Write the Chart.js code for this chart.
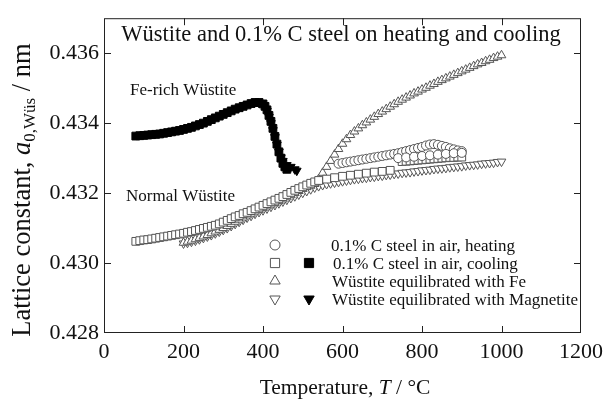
<!DOCTYPE html>
<html>
<head>
<meta charset="utf-8">
<script src="https://cdn.jsdelivr.net/npm/chart.js@4.4.1/dist/chart.umd.min.js"></script>
<style>
  html, body { margin: 0; padding: 0; background: #fff; }
  canvas { display: block; }
</style>
</head>
<body>
<canvas id="chart" width="609" height="399"></canvas>
<script>
// axis ticks
const xTicks = [0, 200, 400, 600, 800, 1000, 1200];
const yTicks = [0.428, 0.430, 0.432, 0.434, 0.436];
const xTickLabels = ['0', '200', '400', '600', '800', '1000', '1200'];
const yTickLabels = ['0.428', '0.430', '0.432', '0.434', '0.436'];

// 0.1% C steel in air, heating (open circles)
const heatT = [590, 600, 610, 620, 630, 640, 650, 660, 670, 680, 690, 700, 710, 720, 730, 740, 750, 760, 770, 780, 790, 800, 810, 820, 830, 840, 850, 860, 870, 880, 890, 900,
               740, 760, 780, 800, 820, 840, 860, 880, 900];
const heatA = [0.43284, 0.43286, 0.43288, 0.43290, 0.43292, 0.43294, 0.43296, 0.43298, 0.43300, 0.43302, 0.43304, 0.43306, 0.43308, 0.43310, 0.43312, 0.43314, 0.43317, 0.43320, 0.43323, 0.43326, 0.43329, 0.43332, 0.43336, 0.43339, 0.43340, 0.43338, 0.43335, 0.43332, 0.43328, 0.43325, 0.43322, 0.43320,
               0.43300, 0.43302, 0.43304, 0.43306, 0.43308, 0.43310, 0.43312, 0.43314, 0.43315];

// 0.1% C steel in air, cooling - normal wustite (open squares)
const coolT = [80, 90, 100, 110, 120, 130, 140, 150, 160, 170, 180, 190, 200, 210, 220, 230, 240, 250, 260, 270, 280, 290, 300, 310, 320, 330, 340, 350, 360, 370, 380, 390, 400, 410, 420, 430, 440, 450, 460, 470, 480, 490, 500, 510, 520, 530,
               540, 560, 580, 600, 620, 640, 660, 680, 700, 720,
               750, 760, 770, 780, 790, 800, 810, 820, 830, 840, 850, 860, 870, 880, 890, 900];
const coolA = [0.43062, 0.43064, 0.43066, 0.43067, 0.43069, 0.43071, 0.43073, 0.43075, 0.43077, 0.43079, 0.43081, 0.43083, 0.43085, 0.43088, 0.43090, 0.43093, 0.43096, 0.43099, 0.43102, 0.43105, 0.43108, 0.43112, 0.43117, 0.43122, 0.43127, 0.43132, 0.43136, 0.43141, 0.43145, 0.43150, 0.43155, 0.43160, 0.43165, 0.43170, 0.43175, 0.43180, 0.43185, 0.43190, 0.43196, 0.43202, 0.43208, 0.43213, 0.43218, 0.43223, 0.43228, 0.43232,
               0.43236, 0.43240, 0.43244, 0.43248, 0.43251, 0.43254, 0.43257, 0.43260, 0.43262, 0.43265,
               0.43290, 0.43291, 0.43292, 0.43293, 0.43294, 0.43295, 0.43296, 0.43297, 0.43298, 0.43299, 0.43300, 0.43301, 0.43302, 0.43302, 0.43303, 0.43303];

// 0.1% C steel in air, cooling - Fe-rich wustite (filled squares)
const coolFeT = [80, 90, 100, 110, 120, 130, 140, 150, 160, 170, 180, 190, 200, 210, 220, 230, 240, 250, 260, 270, 280, 290, 300, 310, 320, 330, 340, 350, 360, 370, 380, 390, 400, 405, 410, 415, 420, 425, 430, 435, 440, 445, 450, 455, 460];
const coolFeA = [0.43363, 0.43364, 0.43365, 0.43366, 0.43367, 0.43368, 0.43369, 0.43371, 0.43373, 0.43375, 0.43377, 0.43379, 0.43382, 0.43385, 0.43388, 0.43392, 0.43396, 0.43400, 0.43405, 0.43410, 0.43415, 0.43420, 0.43425, 0.43430, 0.43435, 0.43440, 0.43444, 0.43448, 0.43452, 0.43456, 0.43459, 0.43459, 0.43455, 0.43448, 0.43438, 0.43422, 0.43405, 0.43385, 0.43362, 0.43340, 0.43318, 0.43300, 0.43285, 0.43275, 0.43268];

// Wustite equilibrated with Fe (open triangles)
const feT = [200, 210, 220, 230, 240, 250, 260, 270, 280, 290, 300, 310, 320, 330, 340, 350, 360, 370, 380, 390, 400, 410, 420, 430, 440, 450, 460, 470, 480, 490, 500, 510, 520, 530, 540, 550, 560, 570, 580, 590, 600,
             610, 620, 630, 640, 650, 660, 670, 680, 690, 700, 710, 720, 730, 740, 750, 760, 770, 780, 790, 800, 810, 820, 830, 840, 850, 860, 870, 880, 890, 900, 910, 920, 930, 940, 950, 960, 970, 980, 990, 1000];
const feA = [0.43058, 0.43061, 0.43064, 0.43068, 0.43072, 0.43076, 0.43080, 0.43085, 0.43090, 0.43095, 0.43100, 0.43106, 0.43112, 0.43118, 0.43124, 0.43130, 0.43136, 0.43141, 0.43147, 0.43152, 0.43157, 0.43162, 0.43167, 0.43172, 0.43177, 0.43182, 0.43188, 0.43194, 0.43200, 0.43206, 0.43212, 0.43217, 0.43221, 0.43226, 0.43240, 0.43258, 0.43275, 0.43292, 0.43310, 0.43326, 0.43341,
             0.43354, 0.43366, 0.43376, 0.43385, 0.43394, 0.43402, 0.43410, 0.43418, 0.43426, 0.43433, 0.43440, 0.43447, 0.43454, 0.43461, 0.43467, 0.43473, 0.43479, 0.43485, 0.43490, 0.43496, 0.43501, 0.43507, 0.43512, 0.43518, 0.43523, 0.43528, 0.43533, 0.43538, 0.43543, 0.43548, 0.43553, 0.43558, 0.43563, 0.43568, 0.43572, 0.43577, 0.43581, 0.43586, 0.43590, 0.43594];

// Wustite equilibrated with Magnetite (open inverted triangles)
const magT = [200, 210, 220, 230, 240, 250, 260, 270, 280, 290, 300, 310, 320, 330, 340, 350, 360, 370, 380, 390, 400, 410, 420, 430, 440, 450, 460, 470, 480, 490, 500, 510, 520, 530, 540, 550, 560, 570, 580, 590, 600,
              610, 620, 630, 640, 650, 660, 670, 680, 690, 700, 710, 720, 730, 740, 750, 760, 770, 780, 790, 800, 810, 820, 830, 840, 850, 860, 870, 880, 890, 900, 910, 920, 930, 940, 950, 960, 970, 980, 990, 1000];
const magA = [0.43056, 0.43058, 0.43061, 0.43064, 0.43068, 0.43072, 0.43076, 0.43080, 0.43085, 0.43090, 0.43095, 0.43100, 0.43106, 0.43112, 0.43118, 0.43124, 0.43130, 0.43135, 0.43141, 0.43146, 0.43151, 0.43156, 0.43161, 0.43166, 0.43171, 0.43176, 0.43181, 0.43186, 0.43191, 0.43196, 0.43201, 0.43206, 0.43211, 0.43216, 0.43220, 0.43223, 0.43226, 0.43228, 0.43230, 0.43232, 0.43234,
              0.43236, 0.43238, 0.43240, 0.43241, 0.43243, 0.43244, 0.43246, 0.43247, 0.43249, 0.43250, 0.43252, 0.43253, 0.43255, 0.43256, 0.43258, 0.43259, 0.43260, 0.43262, 0.43263, 0.43265, 0.43266, 0.43267, 0.43269, 0.43270, 0.43271, 0.43272, 0.43274, 0.43275, 0.43276, 0.43277, 0.43279, 0.43280, 0.43281, 0.43282, 0.43284, 0.43285, 0.43286, 0.43287, 0.43289, 0.43290];

// Wustite equilibrated with Magnetite, Fe-rich part (filled inverted triangles)
const magFeT = [390, 400, 410, 415, 420, 425, 430, 435, 440, 445, 450, 460, 470, 480, 485];
const magFeA = [0.43458, 0.43452, 0.43435, 0.43418, 0.43400, 0.43380, 0.43360, 0.43338, 0.43318, 0.43302, 0.43292, 0.43280, 0.43275, 0.43268, 0.43264];

const SERIF = "'Liberation Serif', 'Times New Roman', serif";
const GREY = '#555';

function pts(xs, ys) {
    return xs.map((x, i) => ({ x: x, y: ys[i] }));
}

function openSet(label, data, style, radius, rotation, order) {
    return {
        label, data: data, pointStyle: style, pointRadius: radius, rotation: rotation || 0,
        backgroundColor: '#fff', borderColor: GREY, borderWidth: 1, showLine: false, order: order
    };
}

function filledSet(label, data, style, radius, rotation, order) {
    return {
        label, data: data, pointStyle: style, pointRadius: radius, rotation: rotation || 0,
        backgroundColor: '#000', borderColor: '#000', borderWidth: 1, showLine: false, order: order
    };
}

// frame, inward ticks, texts and the legend
const decor = {
    id: 'decor',
    afterDraw(chart) {
        const ctx = chart.ctx;
        const a = chart.chartArea;
        const xs = chart.scales.x, ys = chart.scales.y;
        ctx.save();
        ctx.strokeStyle = '#222';
        ctx.lineWidth = 1;
        ctx.strokeRect(a.left + 0.5, a.top + 0.5, a.right - a.left - 1, a.bottom - a.top - 1);
        ctx.beginPath();
        xTicks.slice(1, -1).forEach(v => {
            const px = Math.round(xs.getPixelForValue(v)) + 0.5;
            ctx.moveTo(px, a.bottom); ctx.lineTo(px, a.bottom - 7);
            ctx.moveTo(px, a.top); ctx.lineTo(px, a.top + 7);
        });
        yTicks.slice(1).forEach(v => {
            const py = Math.round(ys.getPixelForValue(v)) + 0.5;
            ctx.moveTo(a.left, py); ctx.lineTo(a.left + 7, py);
            ctx.moveTo(a.right, py); ctx.lineTo(a.right - 7, py);
        });
        ctx.stroke();

        ctx.fillStyle = '#111';
        ctx.textBaseline = 'alphabetic';
        ctx.font = '22.5px ' + SERIF;
        ctx.textAlign = 'center';
        ctx.fillText('Wüstite and 0.1% C steel on heating and cooling', 341, 41);

        ctx.textAlign = 'left';
        ctx.font = '17px ' + SERIF;
        ctx.fillText('Fe-rich Wüstite', 130, 94.5);
        ctx.fillText('Normal Wüstite', 126, 201);

        // legend
        const rows = [
            { y: 245, open: 'circle', text: '0.1% C steel in air, heating', tx: 331 },
            { y: 263, open: 'rect', filled: 'rect', text: '0.1% C steel in air, cooling', tx: 333 },
            { y: 281, open: 'triangle', text: 'Wüstite equilibrated with Fe', tx: 332 },
            { y: 299, open: 'triangle', rot: 180, filled: 'triangle', text: 'Wüstite equilibrated with Magnetite', tx: 332 }
        ];
        rows.forEach(r => {
            const rad = r.open === 'rect' ? 6.5 : (r.open === 'circle' ? 5 : 6);
            ctx.fillStyle = '#fff';
            ctx.strokeStyle = GREY;
            ctx.lineWidth = 1;
            Chart.helpers.drawPoint(ctx, { pointStyle: r.open, radius: rad, rotation: r.rot || 0, borderWidth: 1 }, 275, r.y);
            if (r.filled) {
                ctx.fillStyle = '#000';
                ctx.strokeStyle = '#000';
                Chart.helpers.drawPoint(ctx, { pointStyle: r.filled, radius: rad, rotation: r.rot || 0, borderWidth: 1 }, 309, r.y);
            }
            ctx.fillStyle = '#111';
            ctx.font = '17px ' + SERIF;
            ctx.fillText(r.text, r.tx, r.y + 5.5);
        });

        // x axis title
        const f1 = '21.5px ' + SERIF, fi = 'italic 21.5px ' + SERIF;
        const xParts = [['Temperature, ', f1], ['T', fi], [' / °C', f1]];
        let w = 0;
        xParts.forEach(p => { ctx.font = p[1]; w += ctx.measureText(p[0]).width; });
        let cx = 345 - w / 2;
        xParts.forEach(p => { ctx.font = p[1]; ctx.fillText(p[0], cx, 394); cx += ctx.measureText(p[0]).width; });

        // y axis title
        const g1 = '26.5px ' + SERIF, gi = 'italic 26.5px ' + SERIF, gs = '17px ' + SERIF;
        const yParts = [['Lattice constant, ', g1, 0], ['a', gi, 0], ['0,Wüs', gs, 5], [' / nm', g1, 0]];
        w = 0;
        yParts.forEach(p => { ctx.font = p[1]; w += ctx.measureText(p[0]).width; });
        ctx.translate(29.5, 190);
        ctx.rotate(-Math.PI / 2);
        cx = -w / 2;
        yParts.forEach(p => { ctx.font = p[1]; ctx.fillText(p[0], cx, p[2]); cx += ctx.measureText(p[0]).width; });
        ctx.restore();
    }
};

const ctx = document.getElementById('chart').getContext('2d');
new Chart(ctx, {
    type: 'scatter',
    data: {
        datasets: [
            openSet('Wüstite equilibrated with Magnetite', pts(magT, magA), 'triangle', 5, 180, 6),
            openSet('Wüstite equilibrated with Fe', pts(feT, feA), 'triangle', 5, 0, 5),
            openSet('0.1% C steel in air, cooling', pts(coolT, coolA), 'rect', 5.5, 0, 4),
            openSet('0.1% C steel in air, heating', pts(heatT, heatA), 'circle', 4.5, 0, 3),
            filledSet('0.1% C steel in air, cooling (Fe-rich)', pts(coolFeT, coolFeA), 'rect', 5.5, 0, 2),
            filledSet('Wüstite equilibrated with Magnetite (Fe-rich)', pts(magFeT, magFeA), 'triangle', 5, 180, 1)
        ]
    },
    options: {
        responsive: false,
        animation: false,
        devicePixelRatio: 1,
        layout: { padding: { top: 12, right: 24, left: 0, bottom: 0 } },
        plugins: { legend: { display: false }, tooltip: { enabled: false } },
        scales: {
            x: {
                type: 'linear', min: 0, max: 1200,
                afterFit: s => { s.height = 66; },
                afterBuildTicks: s => { s.ticks = xTicks.map(v => ({ value: v })); },
                grid: { display: false, drawTicks: false },
                border: { display: false },
                ticks: {
                    padding: 6, color: '#111', maxRotation: 0,
                    font: { family: SERIF, size: 22 },
                    callback: v => xTickLabels[xTicks.indexOf(v)]
                }
            },
            y: {
                type: 'linear', min: 0.428, max: 0.437,
                afterFit: s => { s.width = 104; },
                afterBuildTicks: s => { s.ticks = yTicks.map(v => ({ value: v })); },
                grid: { display: false, drawTicks: false },
                border: { display: false },
                ticks: {
                    padding: 5, color: '#111',
                    font: { family: SERIF, size: 22 },
                    callback: v => yTickLabels[yTicks.findIndex(t => Math.abs(t - v) < 1e-9)]
                }
            }
        }
    },
    plugins: [decor]
});
</script>
</body>
</html>
